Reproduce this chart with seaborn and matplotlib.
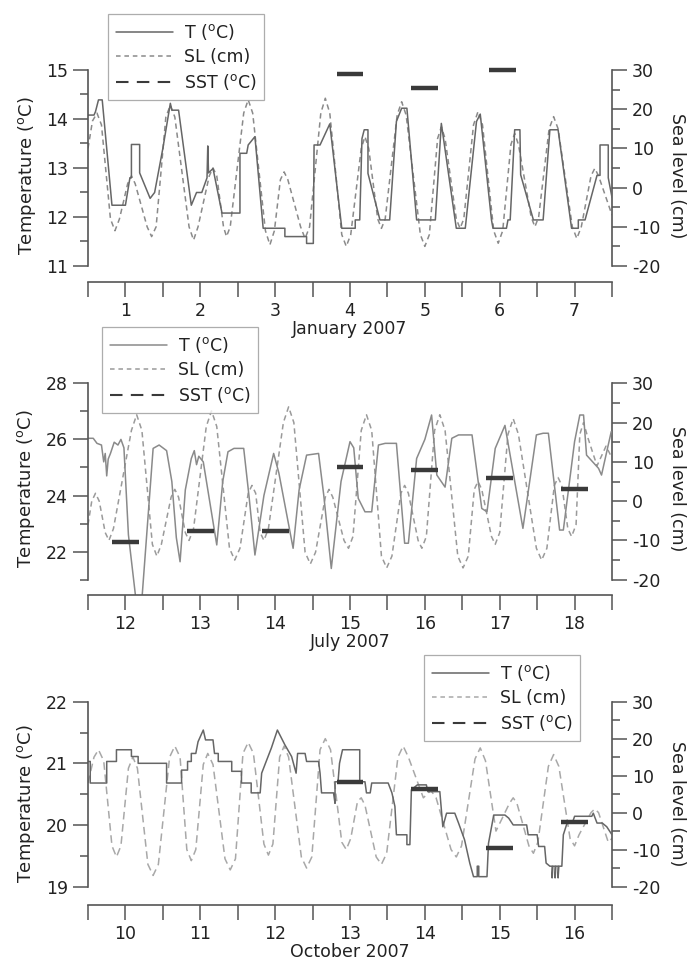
import matplotlib
matplotlib.use("Agg")
import matplotlib.pyplot as plt
import seaborn as sns
import pandas as pd
from matplotlib.lines import Line2D
from matplotlib.ticker import FixedLocator

# ---------------- data ----------------
# January 2007: water temperature T (degC), sea level SL (cm), SST (degC)
jan_days = [1, 2, 3, 4, 5, 6, 7]
jan_t = [(0.50, 14.08), (0.58, 14.08), (0.60, 14.15), (0.64, 14.39), (0.69, 14.39),
         (0.82, 12.24), (1.00, 12.24), (1.06, 12.80), (1.08, 12.80), (1.08, 13.48),
         (1.19, 13.48), (1.19, 12.90), (1.33, 12.38), (1.39, 12.50), (1.50, 13.40),
         (1.60, 14.32), (1.62, 14.18), (1.71, 14.18), (1.88, 12.24), (1.95, 12.50),
         (2.02, 12.50), (2.09, 12.80), (2.10, 13.45), (2.11, 12.90), (2.17, 12.99),
         (2.29, 12.08), (2.53, 12.08), (2.53, 13.30), (2.62, 13.30), (2.64, 13.47),
         (2.73, 13.64), (2.84, 11.77), (3.13, 11.77), (3.13, 11.60), (3.42, 11.60),
         (3.42, 11.46), (3.51, 11.46), (3.52, 13.47), (3.60, 13.47), (3.73, 13.90),
         (3.89, 11.77), (4.07, 11.77), (4.07, 11.94), (4.13, 11.94), (4.16, 13.60),
         (4.19, 13.78), (4.24, 13.78), (4.24, 12.89), (4.40, 11.94), (4.53, 11.94),
         (4.62, 13.95), (4.69, 14.22), (4.76, 14.22), (4.89, 11.94), (5.14, 11.94),
         (5.22, 13.91), (5.42, 11.77), (5.54, 11.77), (5.69, 13.95), (5.74, 14.10),
         (5.89, 11.94), (5.91, 11.77), (6.09, 11.77), (6.11, 11.94), (6.14, 11.94),
         (6.20, 13.78), (6.27, 13.78), (6.28, 12.86), (6.45, 11.94), (6.58, 11.94),
         (6.67, 13.78), (6.78, 13.78), (6.96, 11.77), (7.05, 11.77), (7.05, 11.94),
         (7.14, 11.94), (7.30, 12.85), (7.34, 12.85), (7.34, 13.47), (7.45, 13.47),
         (7.45, 12.80), (7.50, 12.40)]
jan_sl = [(0.50, 10), (0.56, 17), (0.62, 19), (0.68, 16), (0.80, -8), (0.86, -11),
          (0.92, -8), (1.03, 1), (1.08, 3), (1.13, 1), (1.29, -10), (1.35, -12.5),
          (1.41, -10), (1.54, 18), (1.60, 21), (1.66, 18), (1.85, -10), (1.91, -13.4),
          (1.97, -10), (2.12, 3), (2.17, 5), (2.22, 3), (2.31, -10), (2.35, -12.5),
          (2.40, -10), (2.58, 19), (2.64, 22.4), (2.70, 19), (2.87, -11), (2.93, -14.6),
          (2.99, -11), (3.07, 2), (3.12, 4), (3.17, 2), (3.34, -10), (3.40, -13),
          (3.46, -10), (3.61, 19), (3.67, 22.8), (3.73, 19), (3.89, -12), (3.95, -15),
          (4.01, -12), (4.15, 10), (4.20, 13), (4.25, 10), (4.37, -8), (4.42, -10.4),
          (4.47, -8), (4.63, 18.5), (4.69, 21.9), (4.75, 18.5), (4.94, -12), (5.00, -15),
          (5.06, -12), (5.17, 12.5), (5.22, 15.5), (5.27, 12.5), (5.42, -8), (5.47, -10.4),
          (5.52, -8), (5.65, 16), (5.71, 19.4), (5.77, 16), (5.92, -11), (5.98, -14.2),
          (6.04, -11), (6.15, 11), (6.20, 13.8), (6.25, 11), (6.42, -7.5), (6.47, -10),
          (6.52, -7.5), (6.66, 15), (6.72, 18.1), (6.78, 15), (6.97, -10), (7.03, -13),
          (7.09, -10), (7.22, 3), (7.27, 4.9), (7.32, 3), (7.50, -7)]
jan_sst_day = [4.0, 5.0, 6.04]
jan_sst_val = [14.92, 14.63, 15.01]

# July 2007
jul_days = [12, 13, 14, 15, 16, 17, 18]
jul_t = [(11.50, 26.04), (11.57, 26.04), (11.62, 25.86), (11.68, 25.80), (11.71, 25.20),
         (11.73, 25.50), (11.75, 24.70), (11.77, 25.30), (11.80, 25.50), (11.85, 25.90),
         (11.90, 25.80), (11.94, 26.00), (11.98, 25.70), (12.04, 22.60), (12.14, 20.30),
         (12.22, 20.30), (12.37, 25.68), (12.45, 25.80), (12.55, 25.60), (12.62, 24.50),
         (12.68, 22.50), (12.73, 21.64), (12.80, 24.20), (12.88, 25.32), (12.92, 25.60),
         (12.95, 25.10), (12.98, 25.40), (13.04, 25.20), (13.22, 22.24), (13.30, 24.50),
         (13.37, 25.56), (13.45, 25.68), (13.58, 25.68), (13.65, 24.00), (13.73, 21.88),
         (13.85, 24.00), (13.98, 25.50), (14.05, 24.80), (14.24, 22.12), (14.32, 24.20),
         (14.42, 25.44), (14.58, 25.50), (14.65, 24.00), (14.75, 21.40), (14.88, 24.50),
         (15.00, 25.92), (15.05, 25.70), (15.11, 23.90), (15.20, 23.42), (15.29, 23.42),
         (15.38, 25.80), (15.47, 25.86), (15.62, 25.86), (15.73, 22.30), (15.78, 22.30),
         (15.89, 25.32), (16.00, 26.00), (16.09, 26.87), (16.16, 24.73), (16.27, 24.30),
         (16.36, 26.04), (16.45, 26.16), (16.63, 26.16), (16.76, 23.54), (16.83, 23.42),
         (16.94, 25.68), (17.07, 26.50), (17.31, 22.83), (17.49, 26.16), (17.58, 26.22),
         (17.65, 26.22), (17.80, 22.77), (17.85, 22.77), (18.00, 25.92), (18.07, 26.87),
         (18.12, 26.87), (18.16, 25.44), (18.32, 24.97), (18.36, 24.73), (18.49, 26.28)]
jul_sl = [(11.50, -6), (11.55, 0), (11.60, 2), (11.65, 0), (11.73, -8), (11.78, -10),
          (11.84, -7), (12.08, 18), (12.15, 22), (12.22, 18), (12.36, -11), (12.42, -14),
          (12.48, -11), (12.61, 1), (12.66, 3), (12.71, 1), (12.80, -8), (12.85, -10),
          (12.91, -7), (13.08, 19), (13.15, 23), (13.22, 19), (13.39, -12), (13.46, -15),
          (13.53, -12), (13.64, 2), (13.69, 4), (13.74, 2), (13.80, -8), (13.85, -10),
          (13.91, -7), (14.11, 20), (14.18, 24), (14.25, 20), (14.40, -13), (14.47, -16),
          (14.54, -13), (14.67, 1), (14.72, 3), (14.77, 1), (14.92, -10), (14.98, -12),
          (15.04, -9), (15.15, 18), (15.22, 22), (15.29, 18), (15.42, -14), (15.49, -17),
          (15.56, -14), (15.68, 2), (15.73, 4), (15.78, 2), (15.91, -10), (15.96, -12),
          (16.02, -9), (16.13, 18), (16.20, 22), (16.27, 18), (16.44, -14), (16.51, -17),
          (16.58, -14), (16.66, 3), (16.71, 5), (16.76, 3), (16.89, -9), (16.94, -11),
          (17.00, -8), (17.11, 17), (17.18, 21), (17.25, 17), (17.49, -12), (17.56, -15),
          (17.63, -12), (17.73, 4), (17.78, 6), (17.83, 4), (17.91, -7), (17.96, -9),
          (18.02, -6), (18.07, 17), (18.12, 20), (18.18, 16), (18.30, 9), (18.42, 14),
          (18.50, 11)]
jul_sst_day = [12, 13, 14, 15, 16, 17, 18]
jul_sst_val = [22.33, 22.73, 22.73, 25.03, 24.91, 24.61, 24.22]

# October 2007
oct_days = [10, 11, 12, 13, 14, 15, 16]
oct_t = [(9.50, 21.03), (9.53, 21.03), (9.53, 20.68), (9.75, 20.68), (9.75, 21.03),
         (9.88, 21.03), (9.88, 21.22), (10.08, 21.22), (10.08, 21.11), (10.17, 21.11),
         (10.17, 21.00), (10.55, 21.00), (10.55, 20.68), (10.75, 20.68), (10.75, 20.89),
         (10.83, 20.89), (10.83, 21.03), (10.88, 21.03), (10.88, 21.16), (10.94, 21.16),
         (10.97, 21.35), (11.04, 21.54), (11.07, 21.38), (11.17, 21.38), (11.19, 21.16),
         (11.24, 21.16), (11.24, 21.03), (11.42, 21.03), (11.42, 20.87), (11.55, 20.87),
         (11.55, 20.68), (11.68, 20.68), (11.68, 20.52), (11.80, 20.52), (11.82, 20.84),
         (11.88, 21.03), (11.95, 21.25), (12.03, 21.54), (12.13, 21.30), (12.22, 21.11),
         (12.28, 20.84), (12.30, 21.16), (12.40, 21.16), (12.42, 21.03), (12.58, 21.03),
         (12.60, 20.84), (12.62, 20.52), (12.78, 20.52), (12.80, 20.35), (12.80, 20.70),
         (12.84, 20.70), (12.86, 21.00), (12.90, 21.22), (13.13, 21.22), (13.13, 20.70),
         (13.20, 20.70), (13.22, 20.52), (13.27, 20.52), (13.29, 20.68), (13.51, 20.68),
         (13.56, 20.52), (13.60, 20.30), (13.62, 19.84), (13.76, 19.84), (13.76, 19.68),
         (13.80, 19.68), (13.82, 20.57), (13.90, 20.65), (14.02, 20.65), (14.04, 20.54),
         (14.20, 20.54), (14.24, 19.97), (14.29, 20.19), (14.40, 20.19), (14.45, 20.03),
         (14.53, 19.76), (14.60, 19.38), (14.65, 19.16), (14.70, 19.16), (14.70, 19.33),
         (14.72, 19.33), (14.72, 19.16), (14.83, 19.16), (14.85, 19.70), (14.92, 20.16),
         (15.07, 20.16), (15.12, 20.11), (15.18, 20.00), (15.36, 20.00), (15.38, 19.84),
         (15.50, 19.84), (15.52, 19.65), (15.60, 19.65), (15.62, 19.38), (15.67, 19.33),
         (15.70, 19.33), (15.70, 19.14), (15.71, 19.33), (15.74, 19.33), (15.74, 19.14),
         (15.75, 19.33), (15.78, 19.33), (15.78, 19.14), (15.79, 19.33), (15.83, 19.33),
         (15.85, 19.84), (15.90, 20.03), (15.97, 20.03), (16.00, 20.14), (16.23, 20.14),
         (16.25, 20.19), (16.30, 20.03), (16.37, 20.03), (16.43, 19.97), (16.50, 19.84)]
oct_sl = [(9.50, 8), (9.58, 15), (9.64, 17), (9.71, 14), (9.82, -9), (9.88, -12),
          (9.94, -9), (10.04, 12), (10.10, 15), (10.16, 12), (10.30, -14), (10.37, -17),
          (10.44, -14), (10.59, 15), (10.66, 18), (10.73, 15), (10.82, -10), (10.88, -13),
          (10.94, -10), (11.04, 13), (11.10, 16), (11.17, 13), (11.33, -12.5), (11.40, -15.5),
          (11.47, -12.5), (11.57, 16), (11.64, 19), (11.71, 16), (11.85, -8.5), (11.91, -11.5),
          (11.97, -8.5), (12.06, 15), (12.12, 18), (12.18, 15), (12.35, -12), (12.42, -15),
          (12.49, -12), (12.60, 17), (12.67, 20), (12.74, 17), (12.89, -8), (12.95, -10),
          (13.01, -7), (13.10, 3), (13.15, 4), (13.20, 2), (13.35, -12), (13.42, -14),
          (13.49, -11), (13.64, 15), (13.71, 18), (13.78, 15), (13.98, 4), (14.08, 6),
          (14.15, 4), (14.35, -10), (14.42, -12), (14.49, -9), (14.67, 14.5), (14.74, 17.5),
          (14.81, 14), (14.95, -5), (15.13, 2.5), (15.18, 4), (15.23, 2.5), (15.39, -9),
          (15.45, -11), (15.51, -8), (15.65, 12.5), (15.72, 15.7), (15.79, 12.5),
          (15.94, -7), (16.00, -9), (16.06, -6), (16.22, 0), (16.27, 1), (16.32, 0),
          (16.45, -8), (16.50, -7)]
oct_sst_day = [13, 14, 15, 16]
oct_sst_val = [20.69, 20.58, 19.63, 20.05]

sl_ticks = [-20, -10, 0, 10, 20, 30]
sl_minor = [-15, -5, 5, 15, 25]

# ---------------- style ----------------
sns.set_theme(style="ticks")
plt.rcParams["font.family"] = ["DejaVu Sans"]
plt.rcParams["mathtext.fontset"] = "dejavusans"
AX_COL = "#555555"
TXT_COL = "#222222"

W, H = 693, 960
fig = plt.figure(figsize=(W / 100, H / 100), dpi=100)


def px_axes(left, right, top, bottom):
    return fig.add_axes([left / W, 1 - bottom / H, (right - left) / W, (bottom - top) / H])


deg = r"$^{\mathrm{o}}$"
labels = [f"T ({deg}C)", "SL (cm)", f"SST ({deg}C)"]

panels = [
    dict(t=jan_t, sl=jan_sl, sst_d=jan_sst_day, sst_v=jan_sst_val, days=jan_days,
         tlim=(11, 15), tbot=10.673, tmaj=[11, 12, 13, 14, 15], tmin=[11.5, 12.5, 13.5, 14.5],
         top=70, bottom=282, xlabel="January 2007", leg=(108, 14),
         tcol="#666666", slcol="#8a8a8a", dash=(3.5, 2.5)),
    dict(t=jul_t, sl=jul_sl, sst_d=jul_sst_day, sst_v=jul_sst_val, days=jul_days,
         tlim=(21, 28), tbot=20.455, tmaj=[22, 24, 26, 28], tmin=[21, 23, 25, 27],
         top=383.3, bottom=595, xlabel="July 2007", leg=(102, 327),
         tcol="#8a8a8a", slcol="#9a9a9a", dash=(3.5, 2.5)),
    dict(t=oct_t, sl=oct_sl, sst_d=oct_sst_day, sst_v=oct_sst_val, days=oct_days,
         tlim=(19, 22), tbot=18.70, tmaj=[19, 20, 21, 22], tmin=[19.5, 20.5, 21.5],
         top=701.7, bottom=905, xlabel="October 2007", leg=(424, 655),
         tcol="#666666", slcol="#a8a8a8", dash=(5, 3)),
]

for p in panels:
    ax = px_axes(88, 612, p["top"], p["bottom"])
    ax2 = ax.twinx()
    ax.set_zorder(ax2.get_zorder() + 1)
    ax.patch.set_visible(False)

    df_t = pd.DataFrame(p["t"], columns=["day", "T"])
    df_sl = pd.DataFrame(p["sl"], columns=["day", "SL"])

    sns.lineplot(data=df_sl, x="day", y="SL", ax=ax2, estimator=None, sort=False,
                 color=p["slcol"], lw=1.1, linestyle=(0, p["dash"]), legend=False)
    sns.lineplot(data=df_t, x="day", y="T", ax=ax, estimator=None, sort=False,
                 color=p["tcol"], lw=1.1, legend=False)
    half = 0.18
    ax.hlines(p["sst_v"], [d - half for d in p["sst_d"]], [d + half for d in p["sst_d"]],
              colors="#3a3a3a", lw=3.2, clip_on=False, zorder=5)

    d0 = p["days"][0] - 0.5
    d1 = p["days"][-1] + 0.5
    lo, hi = p["tlim"]
    ax.set_xlim(d0, d1)
    ax.set_ylim(p["tbot"], hi)
    ax2.set_ylim(-20 - (lo - p["tbot"]) * 50 / (hi - lo), 30)

    for s in ["top", "right"]:
        ax.spines[s].set_visible(False)
    for s in ["top", "left", "bottom"]:
        ax2.spines[s].set_visible(False)
    ax.spines["left"].set_bounds(lo, hi)
    ax2.spines["right"].set_bounds(-20, 30)
    for sp in [ax.spines["left"], ax.spines["bottom"], ax2.spines["right"]]:
        sp.set_color(AX_COL)
        sp.set_linewidth(1.2)

    ax.yaxis.set_major_locator(FixedLocator(p["tmaj"]))
    ax.yaxis.set_minor_locator(FixedLocator(p["tmin"]))
    ax.set_yticklabels([str(v) for v in p["tmaj"]])
    ax.set_xticks(p["days"])
    ax.set_xticklabels([str(d) for d in p["days"]])
    ax.set_xticks([d - 0.5 for d in p["days"]] + [d1], minor=True)
    ax2.yaxis.set_major_locator(FixedLocator(sl_ticks))
    ax2.yaxis.set_minor_locator(FixedLocator(sl_minor))
    ax2.set_yticklabels([str(v) for v in sl_ticks])

    ax.tick_params(axis="y", which="major", length=10.5, width=1.1, color=AX_COL,
                   labelsize=12.5, labelcolor=TXT_COL, pad=4)
    ax.tick_params(axis="y", which="minor", length=5.5, width=1.1, color=AX_COL)
    ax.tick_params(axis="x", which="both", length=10.5, width=1.1, color=AX_COL,
                   labelsize=12.5, labelcolor=TXT_COL, pad=4)
    ax2.tick_params(axis="y", which="major", length=10.5, width=1.1, color=AX_COL,
                    labelsize=12.5, labelcolor=TXT_COL, pad=4)
    ax2.tick_params(axis="y", which="minor", length=5.5, width=1.1, color=AX_COL)

    ax.set_ylabel(f"Temperature ({deg}C)", fontsize=13, color=TXT_COL, labelpad=6)
    ax2.set_ylabel("Sea level (cm)", fontsize=12.5, color=TXT_COL, rotation=270,
                   labelpad=18)
    ax.set_xlabel(p["xlabel"], fontsize=12.5, color=TXT_COL, labelpad=0)

    handles = [
        Line2D([], [], color=p["tcol"], lw=1.1),
        Line2D([], [], color=p["slcol"], lw=1.1, linestyle=(0, (3, 2.5))),
        Line2D([], [], color="#3a3a3a", lw=1.5, linestyle=(0, (6, 4))),
    ]
    lx, ly = p["leg"]
    leg = ax.legend(handles, labels, loc="upper left",
                    bbox_to_anchor=(lx / W, 1 - ly / H), bbox_transform=fig.transFigure,
                    borderaxespad=0, frameon=True, fancybox=False, fontsize=12.5,
                    handlelength=3.3, handletextpad=0.6, labelspacing=0.35,
                    borderpad=0.45)
    leg.get_frame().set_edgecolor("#999999")
    leg.get_frame().set_linewidth(0.9)
    for t in leg.get_texts():
        t.set_color(TXT_COL)

fig.savefig("out.png", dpi=100)
